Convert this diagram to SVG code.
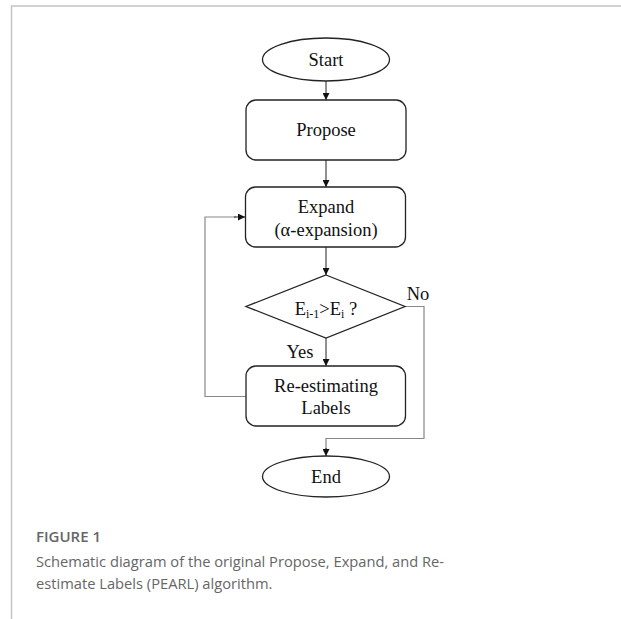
<svg xmlns="http://www.w3.org/2000/svg" width="621" height="619" viewBox="0 0 621 619">
<style>
.shape{fill:#fff;stroke:#222;stroke-width:1.3}
.t{font-family:"Liberation Serif","Times New Roman",serif;font-size:18.5px;fill:#111;text-anchor:middle}
.c{fill:none;stroke:#222;stroke-width:1}
.g{fill:none;stroke:#888;stroke-width:1.2}
.cap{font-family:"Open Sans","Noto Sans",sans-serif;fill:#666}
</style>
<defs>
<marker id="ah" viewBox="0 0 10 10" refX="10" refY="5" markerWidth="7" markerHeight="7" orient="auto" markerUnits="userSpaceOnUse">
<path d="M0,0 L10,5 L0,10 z" fill="#111"/>
</marker>
</defs>
<rect width="621" height="619" fill="#fff"/>
<path d="M11.5,619 V6 H621" fill="none" stroke="#c4c4c4" stroke-width="1.5"/>
<g id="connectors">
<line class="c" x1="326" y1="81" x2="326" y2="100" marker-end="url(#ah)"/>
<line class="c" x1="326" y1="160" x2="326" y2="187" marker-end="url(#ah)"/>
<line class="c" x1="326" y1="247" x2="326" y2="275" marker-end="url(#ah)"/>
<line class="c" x1="326" y1="338" x2="326" y2="366" marker-end="url(#ah)"/>
<path class="g" d="M246,396.5 H205 V217 H236"/>
<path class="c" d="M234,217 H245" marker-end="url(#ah)"/>
<path class="g" d="M405,306.5 H424 V438.5 H326 V450"/>
<path class="c" d="M326,448 V456" marker-end="url(#ah)"/>
<text class="t" x="418" y="300">No</text>
<text class="t" x="300" y="358">Yes</text>
</g>
<g id="start">
<ellipse class="shape" cx="326" cy="59.5" rx="63.5" ry="21.5"/>
<text class="t" x="326" y="66">Start</text>
</g>
<g id="propose">
<rect class="shape" x="246" y="100" width="160" height="60" rx="10"/>
<text class="t" x="326" y="136">Propose</text>
</g>
<g id="expand">
<rect class="shape" x="245.5" y="187" width="160" height="60" rx="10"/>
<text class="t" x="326" y="213">Expand</text>
<text class="t" x="326" y="236">(α-expansion)</text>
</g>
<g id="decision">
<polygon class="shape" points="326,275 405,306.5 326,338 246,306.5"/>
<text class="t" x="326" y="315">E<tspan font-size="12" dy="3">i-1</tspan><tspan dy="-3">&gt;E</tspan><tspan font-size="12" dy="3">i</tspan><tspan dy="-3"> ?</tspan></text>
</g>
<g id="reestimate">
<rect class="shape" x="246" y="366" width="159.5" height="60" rx="10"/>
<text class="t" x="326" y="392">Re-estimating</text>
<text class="t" x="326" y="414">Labels</text>
</g>
<g id="end">
<ellipse class="shape" cx="326" cy="476.5" rx="63.5" ry="20.5"/>
<text class="t" x="326" y="483">End</text>
</g>
<g id="caption">
<text class="cap" x="36" y="542" font-size="15" font-weight="600">FIGURE 1</text>
<text class="cap" x="36" y="567" font-size="14.7">Schematic diagram of the original Propose, Expand, and Re-</text>
<text class="cap" x="36" y="589" font-size="14.7">estimate Labels (PEARL) algorithm.</text>
</g>
</svg>
